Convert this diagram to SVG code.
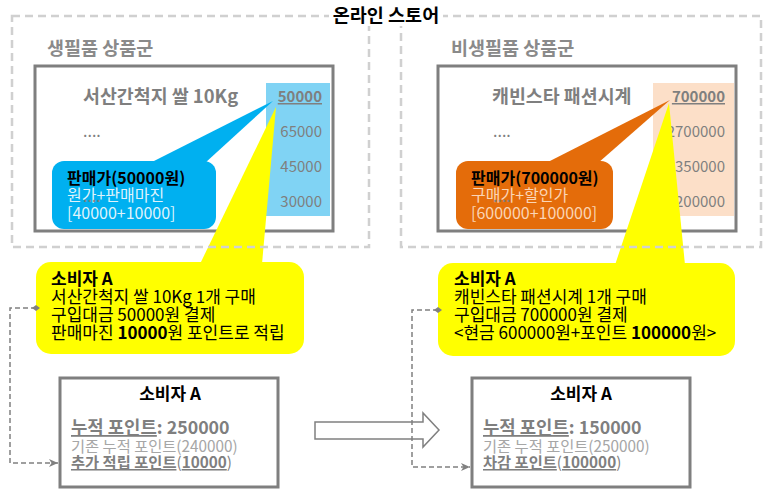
<svg xmlns="http://www.w3.org/2000/svg" width="772" height="501" viewBox="0 0 772 501">
<style>
text{font-family:"Noto Sans CJK KR","Noto Sans",sans-serif}
.outer{fill:none;stroke:#d0d0d0;stroke-width:2.5;stroke-dasharray:8 5}
.inner{fill:none;stroke:#7f7f7f;stroke-width:3}
.grp{font-size:18.5px;font-weight:bold;fill:#8a8a8a}
.prod{font-size:18.4px;font-weight:bold;fill:#7f7f7f}
.dots{font-size:16px;fill:#7f7f7f}
.num{font-size:15px;fill:#7f7f7f;text-anchor:end}
.ct{font-size:16px}
.yt{font-size:17px;fill:#000}
.bt{font-size:17px;font-weight:bold;fill:#000;text-anchor:middle}
.pt{font-size:17.8px;font-weight:bold;fill:#7f7f7f}
.old{font-size:15.3px;fill:#a6a6a6}
.add{font-size:15.3px;fill:#7f7f7f}
.conn{fill:none;stroke:#808080;stroke-width:1.5;stroke-dasharray:5 3}
.pbox{fill:#fff;stroke:#7f7f7f;stroke-width:3}
</style>
<defs>
<marker id="dia" markerWidth="8" markerHeight="8" refX="4" refY="4" orient="auto" markerUnits="userSpaceOnUse">
<path d="M0,4 L4,1 L8,4 L4,7 Z" fill="#808080"/>
</marker>
<marker id="arr" markerWidth="9" markerHeight="8" refX="9" refY="4" orient="auto" markerUnits="userSpaceOnUse">
<path d="M0,0 L9,4 L0,8 L2.5,4 Z" fill="#808080"/>
</marker>
</defs>

<g id="group-left-inner">
<rect class="inner" x="35" y="66" width="298" height="165"/>
<rect x="266" y="83" width="64" height="133" fill="#80d3f4"/>
<text class="prod" x="83" y="103">서산간척지 쌀 10Kg</text>
<text class="dots" x="83" y="137">....</text>
<text class="num" x="322" y="102" font-weight="bold" text-decoration="underline">50000</text>
<text class="num" x="322" y="137">65000</text>
<text class="num" x="322" y="172">45000</text>
<text class="num" x="322" y="207">30000</text>
</g>

<g id="group-right-inner">
<rect class="inner" x="438" y="66" width="298" height="165"/>
<rect x="653" y="83" width="81" height="133" fill="#fcdfc8"/>
<text class="prod" x="492" y="103">캐빈스타 패션시계</text>
<text class="dots" x="493" y="137">....</text>
<text class="num" x="725" y="102" font-weight="bold" text-decoration="underline">700000</text>
<text class="num" x="725" y="137">2700000</text>
<text class="num" x="725" y="172">350000</text>
<text class="num" x="725" y="207">200000</text>
</g>

<g id="callout-blue">
<polygon points="150,163 205,163 273,101" fill="#00b0f0"/>
<rect x="52" y="161" width="164" height="68" rx="12" fill="#00b0f0"/>
<text class="ct" x="67" y="184" font-weight="bold" fill="#000">판매가(50000원)</text>
<text class="ct" x="67" y="201" fill="#dff3fc">원가+판매마진</text>
<text class="ct" x="67" y="219" fill="#dff3fc">[40000+10000]</text>
<text class="dots" x="83" y="202">....</text>
</g>

<g id="callout-orange">
<polygon points="546,163 598,163 670,100" fill="#e46c0a"/>
<rect x="456" y="161" width="157" height="68" rx="12" fill="#e46c0a"/>
<text class="ct" x="471" y="184" font-weight="bold" fill="#000">판매가(700000원)</text>
<text class="ct" x="471" y="201" fill="#fbd5b5">구매가+할인가</text>
<text class="ct" x="471" y="219" fill="#fbd5b5">[600000+100000]</text>
<text class="dots" x="493" y="202">....</text>
</g>

<g id="callout-yellow-left">
<polygon points="200,264 262,264 276,107" fill="#ffff00"/>
<rect x="36" y="262" width="268" height="92" rx="15" fill="#ffff00"/>
<text class="yt" x="51" y="285" font-weight="bold">소비자 A</text>
<text class="yt" x="51" y="303">서산간척지 쌀 10Kg 1개 구매</text>
<text class="yt" x="51" y="321">구입대금 50000원 결제</text>
<text class="yt" x="51" y="339">판매마진 <tspan font-weight="bold">10000</tspan>원 포인트로 적립</text>
</g>

<g id="callout-yellow-right">
<polygon points="615,265 685,265 669,103" fill="#ffff00"/>
<rect x="438" y="263" width="297" height="93" rx="15" fill="#ffff00"/>
<text class="yt" x="454" y="285" font-weight="bold">소비자 A</text>
<text class="yt" x="454" y="303">캐빈스타 패션시계 1개 구매</text>
<text class="yt" x="454" y="321">구입대금 700000원 결제</text>
<text class="yt" x="454" y="339">&lt;현금 600000원+포인트 <tspan font-weight="bold">100000</tspan>원&gt;</text>
</g>

<g id="group-left">
<rect class="outer" x="12" y="16" width="357" height="231"/>
<text class="grp" x="47" y="55">생필품 상품군</text>
</g>

<g id="group-right">
<rect class="outer" x="401" y="16" width="360" height="231"/>
<text class="grp" x="451" y="55">비생필품 상품군</text>
</g>

<g id="title">
<rect x="329" y="5" width="114" height="21" fill="#fff"/>
<text x="386" y="22" font-size="18.5" font-weight="bold" fill="#000" text-anchor="middle">온라인 스토어</text>
</g>

<g id="flow-arrow">
<path d="M315,422 H423 V413 L439,430 L423,447 V439 H315 Z" fill="#fff" stroke="#808080" stroke-width="1.5"/>
</g>

<g id="consumer-left">
<rect class="pbox" x="60" y="378" width="218" height="109"/>
<text class="bt" x="170" y="400">소비자 A</text>
<text class="pt" x="71" y="434"><tspan text-decoration="underline">누적 포인트</tspan>: 250000</text>
<text class="old" x="71" y="452">기존 누적 포인트(240000)</text>
<text class="add" x="71" y="468"><tspan font-weight="bold" text-decoration="underline">추가 적립 포인트</tspan>(<tspan font-weight="bold" text-decoration="underline">10000</tspan>)</text>
</g>

<g id="consumer-right">
<rect class="pbox" x="472" y="378" width="218" height="109"/>
<text class="bt" x="581" y="400">소비자 A</text>
<text class="pt" x="483" y="434"><tspan text-decoration="underline">누적 포인트</tspan>: 150000</text>
<text class="old" x="483" y="452">기존 누적 포인트(250000)</text>
<text class="add" x="483" y="468"><tspan font-weight="bold" text-decoration="underline">차감 포인트</tspan>(<tspan font-weight="bold" text-decoration="underline">100000</tspan>)</text>
</g>

<g id="connectors">
<path class="conn" d="M36,308 H10 V463 H58" marker-start="url(#dia)" marker-end="url(#arr)"/>
<path class="conn" d="M438,310 H412 V467 H470" marker-start="url(#dia)" marker-end="url(#arr)"/>
</g>
</svg>
